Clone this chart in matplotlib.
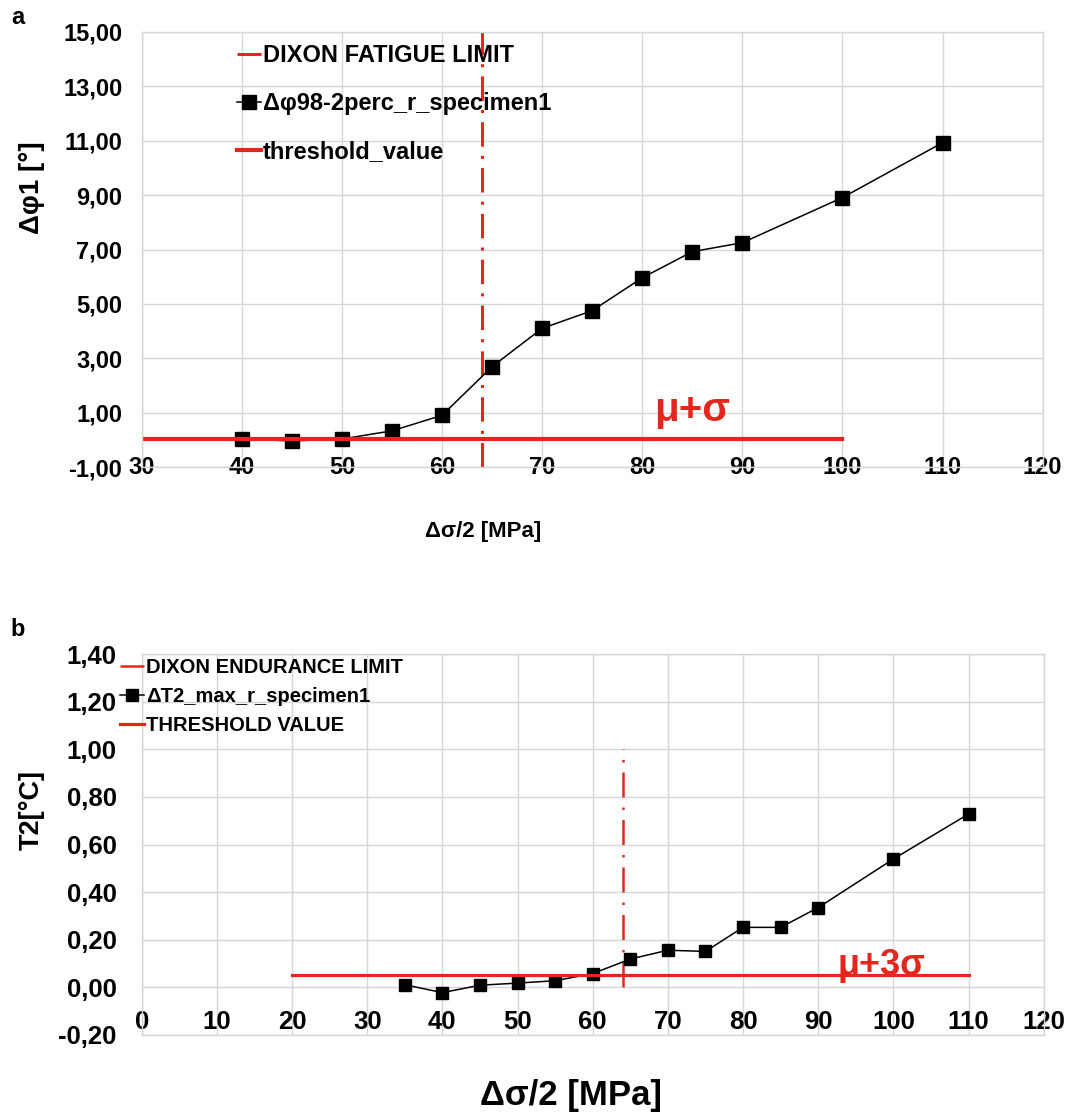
import numpy as np
import matplotlib.pyplot as plt
from matplotlib.ticker import FuncFormatter, MultipleLocator

plt.rcParams['font.family'] = ['Liberation Sans', 'DejaVu Sans']
plt.rcParams['font.weight'] = 'bold'

# panel a: misorientation vs stress amplitude
stress_a = [40, 45, 50, 55, 60, 65, 70, 75, 80, 85, 90, 100, 110]
dphi = [0.03, -0.04, 0.03, 0.33, 0.90, 2.69, 4.10, 4.75, 5.96, 6.92, 7.25, 8.91, 10.93]
thr_a_x = [30, 100]
thr_a = 0.03
dixon_a = 64
yticks_a = [-1, 1, 3, 5, 7, 9, 11, 13, 15]
lab_a = ['DIXON FATIGUE LIMIT', 'Δφ98-2perc_r_specimen1', 'threshold_value']

# panel b: temperature vs stress amplitude
stress_b = [35, 40, 45, 50, 55, 60, 65, 70, 75, 80, 85, 90, 100, 110]
dT2 = [0.011, -0.022, 0.009, 0.018, 0.028, 0.058, 0.119, 0.156, 0.151, 0.252, 0.252, 0.335, 0.539, 0.728]
thr_b_x = [20, 110]
thr_b = 0.053
dixon_b = 64
dixon_b_top = 1.0
yticks_b = [-0.2, 0.0, 0.2, 0.4, 0.6, 0.8, 1.0, 1.2, 1.4]
lab_b = ['DIXON ENDURANCE LIMIT', 'ΔT2_max_r_specimen1', 'THRESHOLD VALUE']

red = '#e4261f'
grid_c = '#d6d6d6'
W, H = 1070, 1114

fmt = FuncFormatter(lambda v, p: ('%.2f' % v).replace('.', ',').replace('-0,00', '0,00'))

fig = plt.figure(figsize=(W / 100, H / 100), dpi=100)


def style(ax):
    ax.grid(True, color=grid_c, linewidth=1.0)
    ax.set_axisbelow(True)
    for s in ax.spines.values():
        s.set_color(grid_c)
        s.set_linewidth(1.0)
    ax.tick_params(length=0)


# ---- a ----
ax1 = fig.add_axes([141.7 / W, 1 - 467 / H, 901 / W, 435 / H])
style(ax1)
ax1.plot([dixon_a, dixon_a], [-1, 15], color=red, lw=2.2, ls=(0, (8, 3, 1, 3)), label=lab_a[0])
ax1.plot(stress_a, dphi, color='black', lw=1.1, marker='s', ms=9.5, label=lab_a[1])
ax1.plot(thr_a_x, [thr_a, thr_a], color=red, lw=3, label=lab_a[2])
ax1.set_xlim(30, 120)
ax1.set_ylim(-1, 15)
ax1.xaxis.set_major_locator(MultipleLocator(10))
ax1.set_yticks(yticks_a)
ax1.yaxis.set_major_formatter(fmt)
ax1.tick_params(axis='y', labelsize=17, pad=14)
ax1.tick_params(axis='x', labelsize=17, pad=-8)
ax1.text(85, 1.1, 'μ+σ', color=red, fontsize=29, ha='center', va='center')
ax1.legend(loc='upper left', bbox_to_anchor=(237 / W, 1 - 44 / H), bbox_transform=fig.transFigure,
           frameon=False, fontsize=17, handlelength=1.0, handletextpad=0.1,
           labelspacing=1.06, borderpad=0, borderaxespad=0)

fig.text(18 / W, 1 - 18 / H, 'a', fontsize=17, ha='center', va='center')
fig.text(32 / W, 1 - 188 / H, 'Δφ1 [°]', fontsize=20, rotation=90, ha='center', va='center')
fig.text(483 / W, 1 - 532 / H, 'Δσ/2 [MPa]', fontsize=16, ha='center', va='center')

# ---- b ----
ax2 = fig.add_axes([141.7 / W, 1 - 1035 / H, 902 / W, 381 / H])
style(ax2)
ax2.plot([dixon_b, dixon_b], [0, dixon_b_top], color=red, lw=1.8, ls=(0, (10, 4, 1, 4)), label=lab_b[0])
ax2.plot(stress_b, dT2, color='black', lw=1.1, marker='s', ms=8, label=lab_b[1])
ax2.plot(thr_b_x, [thr_b, thr_b], color=red, lw=2.3, label=lab_b[2])
ax2.set_xlim(0, 120)
ax2.set_ylim(-0.2, 1.4)
ax2.xaxis.set_major_locator(MultipleLocator(10))
ax2.set_yticks(yticks_b)
ax2.yaxis.set_major_formatter(fmt)
ax2.tick_params(axis='y', labelsize=18.5, pad=18)
ax2.tick_params(axis='x', labelsize=18.5, pad=-18)
ax2.text(98.4, 0.09, 'μ+3σ', color=red, fontsize=26, ha='center', va='center')
ax2.legend(loc='upper left', bbox_to_anchor=(120 / W, 1 - 658 / H), bbox_transform=fig.transFigure,
           frameon=False, fontsize=14.5, handlelength=1.2, handletextpad=0.1,
           labelspacing=0.5, borderpad=0, borderaxespad=0)

fig.text(18 / W, 1 - 630 / H, 'b', fontsize=17, ha='center', va='center')
fig.text(32 / W, 1 - 810 / H, 'T2[°C]', fontsize=19.5, rotation=90, ha='center', va='center')
fig.text(571 / W, 1 - 1095 / H, 'Δσ/2 [MPa]', fontsize=25, ha='center', va='center')

fig.savefig('out.png', dpi=100)
